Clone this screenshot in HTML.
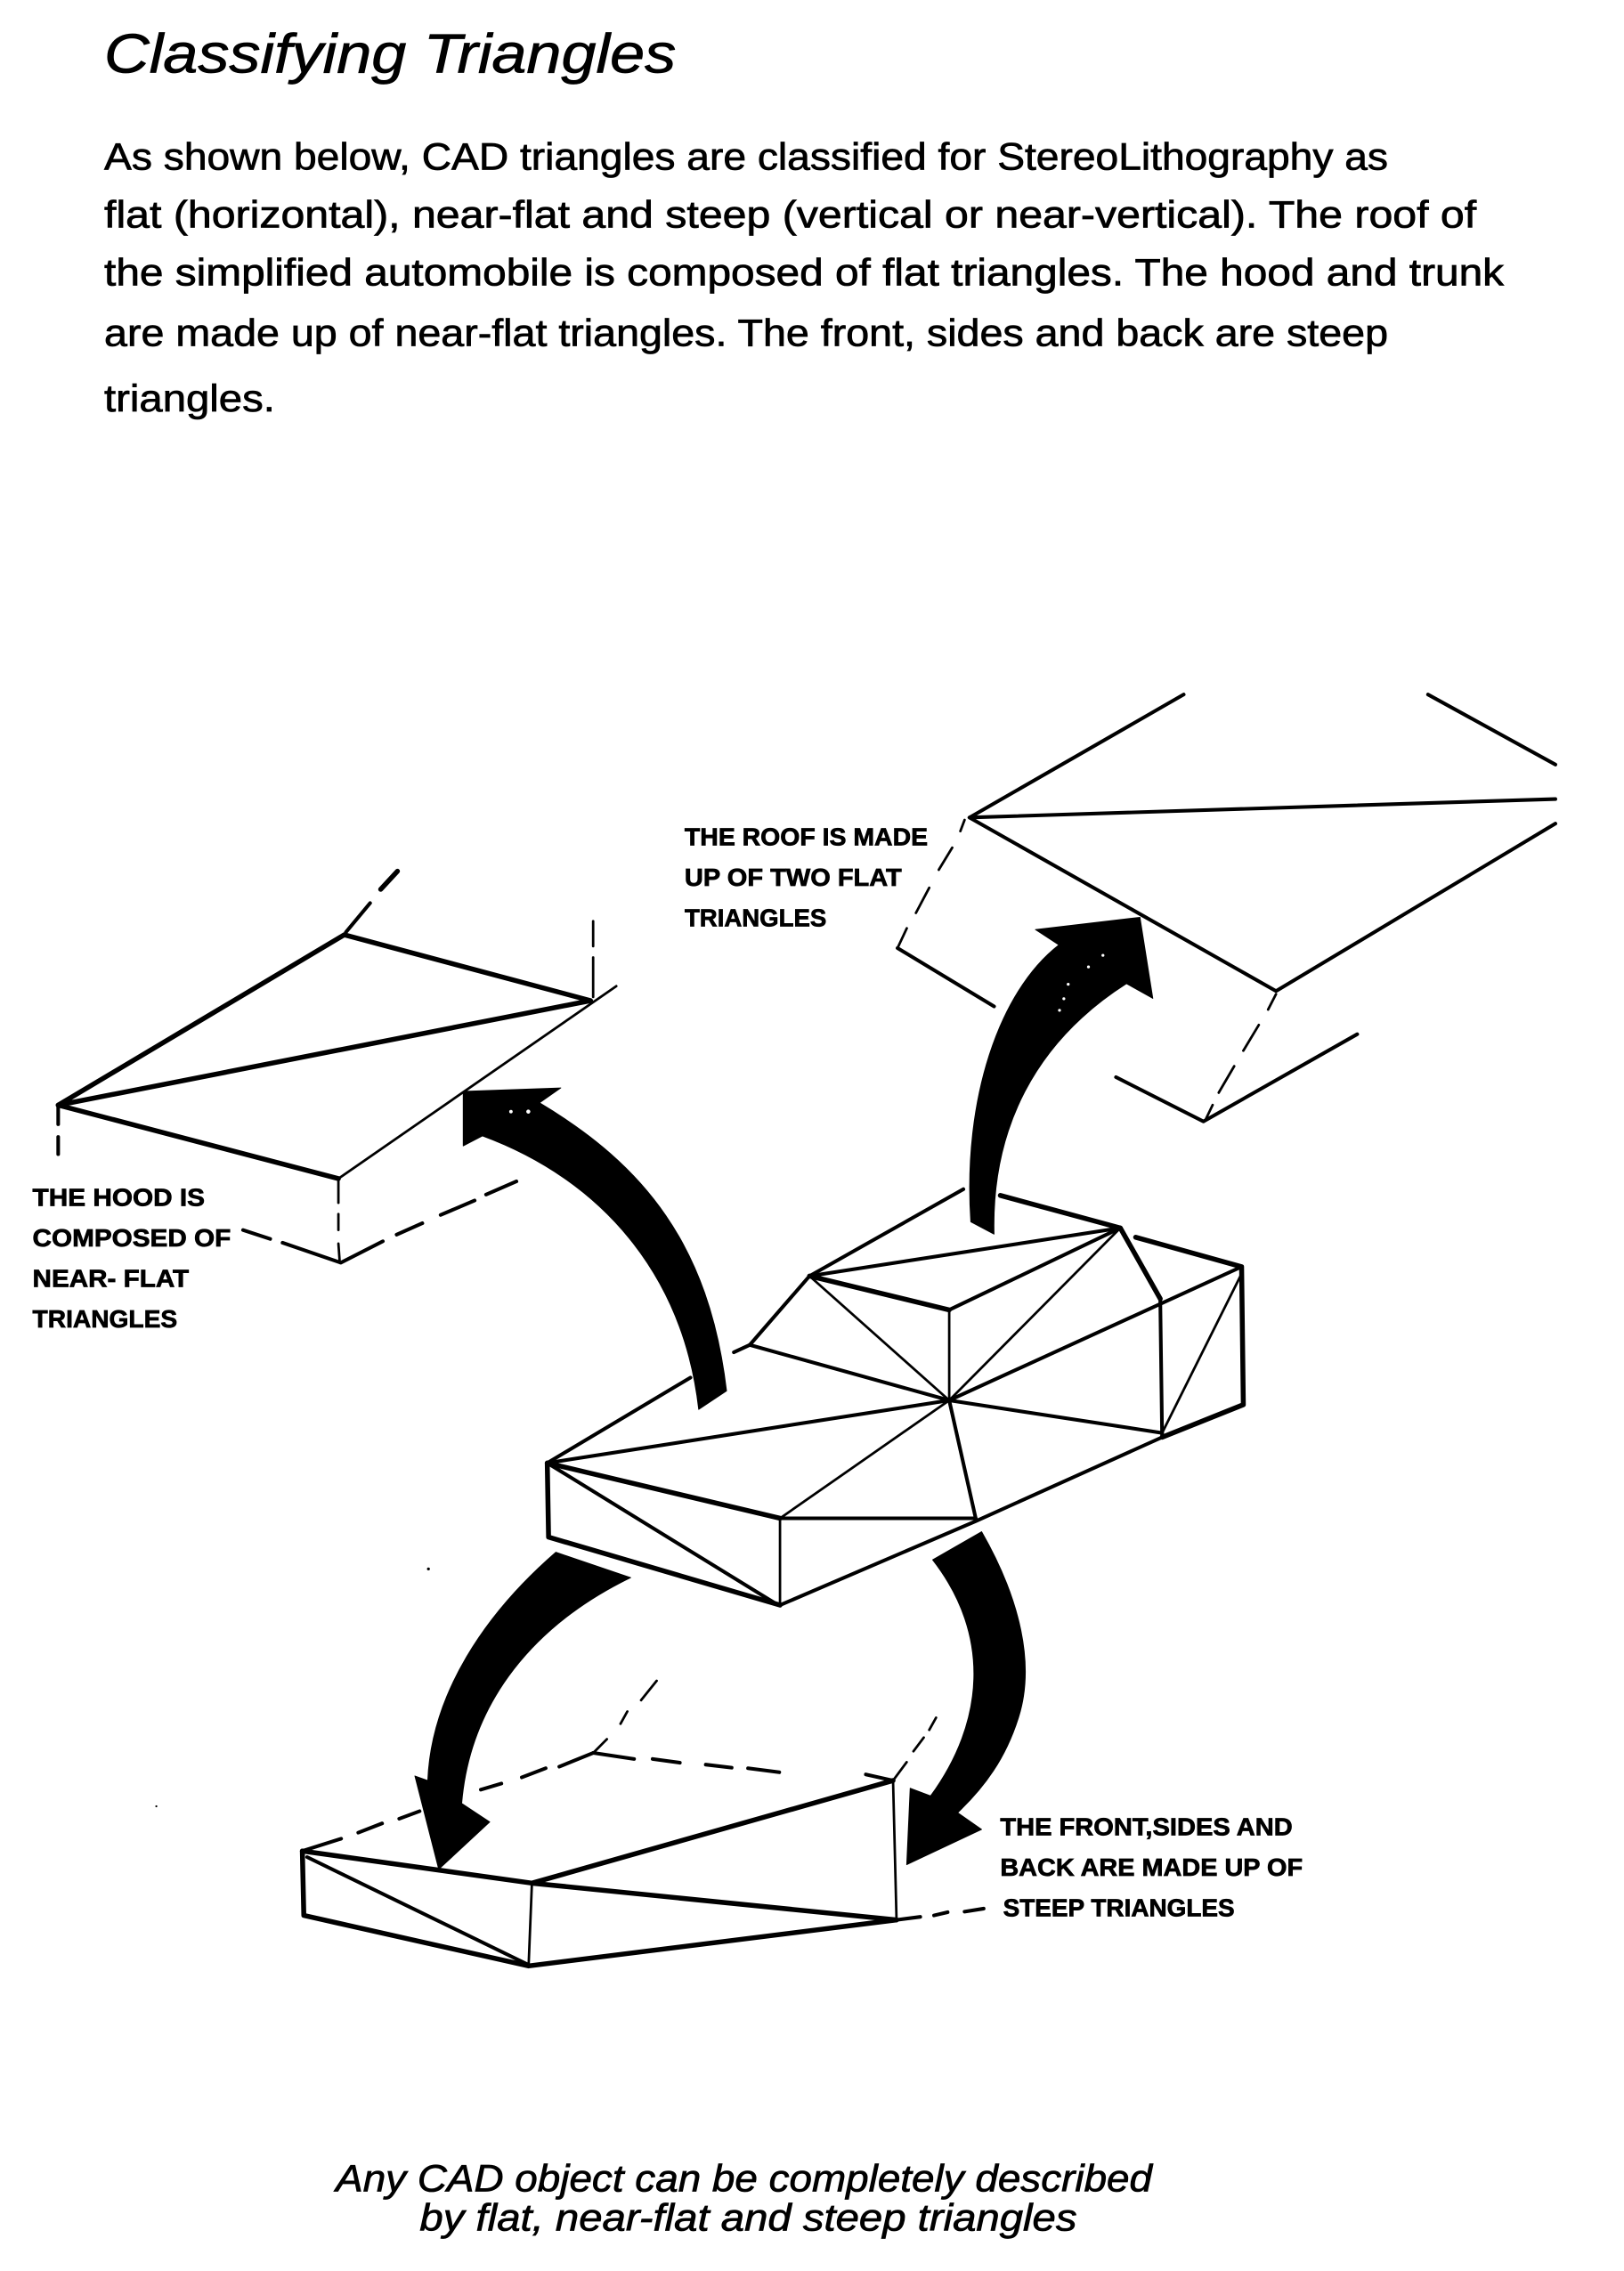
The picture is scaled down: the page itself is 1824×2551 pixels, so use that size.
<!DOCTYPE html>
<html><head><meta charset="utf-8"><style>
html,body{margin:0;padding:0;background:#fff}
svg{display:block}
text{fill:#000;font-family:"Liberation Sans",sans-serif;stroke:#000;stroke-width:.45px}
.b{font-size:26px}
.l{font-size:17px;font-weight:bold}
.i{font-size:26px;font-style:italic}
line,polyline{stroke:#000;fill:none;stroke-linecap:round;stroke-linejoin:round}
.a{fill:#000;stroke:#000;stroke-width:.5;stroke-linejoin:round}
.t1{stroke-width:1.7}.t2{stroke-width:2.5}.t3{stroke-width:3.4}
</style></head><body>
<svg xmlns="http://www.w3.org/2000/svg" width="1824" height="2551" viewBox="0 0 1122 1569">
<rect width="1122" height="1569" fill="#fff"/>
<text x="72" y="50" font-size="38" font-style="italic" textLength="395" lengthAdjust="spacingAndGlyphs">Classifying Triangles</text>
<text class="b" x="72" y="117" textLength="887" lengthAdjust="spacingAndGlyphs">As shown below, CAD triangles are classified for StereoLithography as</text>
<text class="b" x="72" y="157" textLength="948" lengthAdjust="spacingAndGlyphs">flat (horizontal), near-flat and steep (vertical or near-vertical).  The roof of</text>
<text class="b" x="72" y="197" textLength="967" lengthAdjust="spacingAndGlyphs">the simplified automobile is composed of flat triangles.  The hood and trunk</text>
<text class="b" x="72" y="239" textLength="887" lengthAdjust="spacingAndGlyphs">are made up of near-flat triangles.  The front, sides and back are steep</text>
<text class="b" x="72" y="284" textLength="118" lengthAdjust="spacingAndGlyphs">triangles.</text>

<text class="l" x="473" y="584" textLength="168" lengthAdjust="spacingAndGlyphs">THE ROOF IS MADE</text>
<text class="l" x="473" y="612" textLength="150" lengthAdjust="spacingAndGlyphs">UP OF TWO FLAT</text>
<text class="l" x="473" y="640" textLength="98" lengthAdjust="spacingAndGlyphs">TRIANGLES</text>
<text class="l" x="22.5" y="833" textLength="119" lengthAdjust="spacingAndGlyphs">THE HOOD IS</text>
<text class="l" x="22.5" y="861" textLength="137" lengthAdjust="spacingAndGlyphs">COMPOSED OF</text>
<text class="l" x="22.5" y="889" textLength="108" lengthAdjust="spacingAndGlyphs">NEAR- FLAT</text>
<text class="l" x="22.5" y="917" textLength="100" lengthAdjust="spacingAndGlyphs">TRIANGLES</text>
<text class="l" x="691" y="1268" textLength="202" lengthAdjust="spacingAndGlyphs">THE FRONT,SIDES AND</text>
<text class="l" x="691" y="1296" textLength="209" lengthAdjust="spacingAndGlyphs">BACK ARE MADE UP OF</text>
<text class="l" x="693" y="1324" textLength="160" lengthAdjust="spacingAndGlyphs">STEEP TRIANGLES</text>
<text class="i" x="232" y="1514" textLength="564" lengthAdjust="spacingAndGlyphs">Any CAD object can be completely described</text>
<text class="i" x="290" y="1541" textLength="454" lengthAdjust="spacingAndGlyphs">by flat, near-flat and steep triangles</text>

<!-- roof detail -->
<polyline class="t2" points="817.8,479.8 669.8,564.8 1074.6,552"/>
<polyline class="t2" points="669.8,564.8 881.6,684.7 1074.6,569"/>
<line class="t2" x1="986.6" y1="479.8" x2="1074.6" y2="528.2"/>
<line class="t1" x1="666.4" y1="566.5" x2="663.5" y2="574.2"/>
<line class="t1" x1="657.9" y1="585.6" x2="648.6" y2="600.9"/>
<line class="t1" x1="642" y1="613.3" x2="632.8" y2="630.7"/>
<line class="t1" x1="626.5" y1="641.3" x2="620.1" y2="655"/>
<line class="t2" x1="620.1" y1="655" x2="686.8" y2="695.3"/>
<line class="t1" x1="881.6" y1="686.8" x2="876.1" y2="697.5"/>
<line class="t1" x1="869.7" y1="708.1" x2="859" y2="725.9"/>
<line class="t1" x1="852.7" y1="736.6" x2="842" y2="754.9"/>
<line class="t1" x1="837.8" y1="763.4" x2="832.7" y2="774"/>
<polyline class="t2" points="771,744.2 831.4,774.8 937.7,714.5"/>

<!-- hood detail -->
<polyline class="t3" points="408,691.3 40.2,763.5 237.9,645.8 408,691.3"/>
<polyline class="t3" points="40.2,763.5 233.8,814.3"/>
<polyline class="t1" points="233.8,814.3 425.8,681.3"/>
<line class="t3" x1="274.6" y1="601.9" x2="263" y2="614.4"/>
<line class="t2" x1="255.7" y1="623.9" x2="239" y2="644"/>
<line class="t1" x1="409.8" y1="636.4" x2="409.8" y2="653.7"/>
<line class="t1" x1="409.8" y1="661.5" x2="409.8" y2="688.8"/>
<line class="t2" x1="40.2" y1="763.5" x2="40.2" y2="776.7"/>
<line class="t2" x1="40.2" y1="785.5" x2="40.2" y2="797.4"/>
<line class="t1" x1="233.8" y1="815" x2="233.8" y2="831"/>
<line class="t1" x1="233.8" y1="838.8" x2="233.8" y2="849.8"/>
<line class="t1" x1="233.8" y1="859.2" x2="234.7" y2="871.8"/>
<line class="t2" x1="167.9" y1="849.8" x2="186.7" y2="856"/>
<polyline class="t2" points="195.2,858.6 235.4,872.4 264.5,857.6"/>
<line class="t2" x1="274" y1="853" x2="291.8" y2="845.1"/>
<line class="t2" x1="304.4" y1="839.4" x2="327.9" y2="829.4"/>
<line class="t2" x1="335.8" y1="825.3" x2="356.8" y2="816.2"/>

<!-- car -->
<polyline class="t3" points="378.1,1010.8 379,1062 538.9,1109"/>
<polyline class="t2" points="538.9,1109 674.1,1051 802.9,993"/>
<polyline class="t3" points="802.9,993 859,970.5 857.8,875.2 784.6,854.8"/>
<line class="t2" x1="378.1" y1="1010.8" x2="477" y2="951.8"/>
<line class="t3" x1="378.1" y1="1010.8" x2="538.9" y2="1049"/>
<line class="t2" x1="378.1" y1="1010.8" x2="655.8" y2="967.5"/>
<line class="t2" x1="378.1" y1="1010.8" x2="536" y2="1108"/>
<line class="t1" x1="538.9" y1="1049" x2="538.9" y2="1109"/>
<line class="t2" x1="538.9" y1="1049" x2="674.1" y2="1049"/>
<line class="t1" x1="538.9" y1="1049" x2="655.8" y2="967.5"/>
<line class="t2" x1="674.1" y1="1049" x2="655.8" y2="967.5"/>
<line class="t2" x1="655.8" y1="967.5" x2="802.9" y2="990"/>
<line class="t2" x1="655.8" y1="967.5" x2="857.8" y2="875.2"/>
<line class="t1" x1="655.8" y1="967.5" x2="774" y2="848.4"/>
<line class="t1" x1="655.8" y1="967.5" x2="655.8" y2="905"/>
<line class="t1" x1="655.8" y1="967.5" x2="559.3" y2="881.6"/>
<line class="t2" x1="655.8" y1="967.5" x2="518" y2="929.2"/>
<polyline class="t2" points="507,934.3 518,929.2 559.3,881.6 665.6,821.6"/>
<polyline class="t2" points="559.3,881.6 774,848.4"/>
<polyline class="t3" points="559.3,881.6 655.8,905"/>
<line class="t2" x1="655.8" y1="905" x2="774" y2="848.4"/>
<line class="t3" x1="691.1" y1="825.9" x2="774" y2="848.4"/>
<line class="t3" x1="774" y1="848.4" x2="801.6" y2="897.3"/>
<line class="t2" x1="801.6" y1="897.3" x2="802.9" y2="993"/>
<line class="t1" x1="857.8" y1="880" x2="802.9" y2="990"/>

<!-- bottom shape -->
<polyline class="t3" points="208.9,1278.9 209.9,1323.4 365.2,1358.3 619.4,1326.5"/>
<polyline class="t3" points="208.9,1278.9 367.5,1301.1 619.4,1326.5"/>
<line class="t2" x1="212.2" y1="1283.1" x2="364" y2="1357"/>
<line class="t1" x1="367.5" y1="1301.1" x2="365.2" y2="1358.3"/>
<line class="t3" x1="367.5" y1="1301.1" x2="617" y2="1230.2"/>
<line class="t1" x1="617" y1="1230.2" x2="619.4" y2="1326.5"/>
<line class="t2" x1="208.9" y1="1278.9" x2="235.7" y2="1270.4"/>
<line class="t2" x1="247.5" y1="1266.2" x2="264" y2="1259.8"/>
<line class="t2" x1="275.8" y1="1256.6" x2="289.9" y2="1251.4"/>
<line class="t2" x1="332.2" y1="1236.5" x2="346.4" y2="1232.3"/>
<line class="t2" x1="360.5" y1="1228" x2="377" y2="1221.7"/>
<line class="t2" x1="386.4" y1="1220.6" x2="409.9" y2="1211.1"/>
<line class="t2" x1="409.9" y1="1211.1" x2="438.1" y2="1215.3"/>
<line class="t2" x1="450.9" y1="1215.3" x2="469.7" y2="1217.9"/>
<line class="t2" x1="487.6" y1="1219.2" x2="505.5" y2="1221.3"/>
<line class="t2" x1="516.8" y1="1221.7" x2="538.4" y2="1224.5"/>
<line class="t1" x1="409.9" y1="1211.1" x2="419.3" y2="1201.6"/>
<line class="t1" x1="428.7" y1="1191" x2="433.4" y2="1182.5"/>
<line class="t1" x1="442.9" y1="1174.7" x2="453.7" y2="1161.3"/>
<line class="t1" x1="617" y1="1230.2" x2="626.4" y2="1217.5"/>
<line class="t1" x1="631.1" y1="1210" x2="638.2" y2="1200.5"/>
<line class="t1" x1="642" y1="1195.2" x2="646.7" y2="1186.8"/>
<line class="t2" x1="598.2" y1="1226" x2="617" y2="1230.2"/>
<line class="t2" x1="619.4" y1="1326.5" x2="635.8" y2="1324.4"/>
<line class="t2" x1="645.3" y1="1323.4" x2="654.7" y2="1321.2"/>
<line class="t2" x1="666.4" y1="1320.8" x2="679.6" y2="1318.7"/>

<!-- arrows -->
<path class="a" d="M320,754 L387.5,751.6 L372.8,761.9 C445,805 490,860 502,961 L482.7,973.8 C472,880 415,815 333.3,784.8 L320,791.7 Z"/>
<path class="a" d="M787.6,633.7 L715.3,642.2 L731.5,652.8 C690,685 665,760 670.7,844.2 L686.8,852.7 C685,780 715,720 778.3,679.6 L796.5,689.8 Z"/>
<path class="a" d="M384,1072.4 L435.8,1090 C370,1122 325,1175 319,1246 L338.4,1258.8 L303.1,1291.6 L286.6,1227 L295.5,1230.2 C298,1170 335,1115 384,1072.4 Z"/>
<path class="a" d="M678.2,1058.2 C705,1105 715,1150 704,1185.7 C695,1215 680,1235 661.7,1252.4 L678.2,1264 L626.4,1288.4 L628.8,1235.5 L642.9,1240.8 C680,1190 685,1130 644.3,1077.7 Z"/>
<circle cx="296" cy="1084" r="1" fill="#000"/>
<circle cx="108" cy="1248" r=".7" fill="#000"/>
<g fill="#fff"><circle cx="353" cy="768" r="1.2"/><circle cx="365" cy="768" r="1.4"/><circle cx="735" cy="690" r="1"/><circle cx="732" cy="698" r="1"/><circle cx="752" cy="668" r="1"/><circle cx="738" cy="680" r="1"/><circle cx="762" cy="660" r="1"/></g>
</svg>
</body></html>
